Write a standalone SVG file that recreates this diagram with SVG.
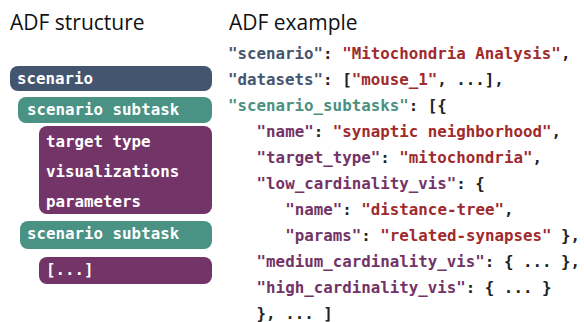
<svg xmlns="http://www.w3.org/2000/svg" width="584" height="322" viewBox="0 0 584 322">
<style>
.title{font-family:"Open Sans","Liberation Sans",sans-serif;font-size:21px;fill:#111;}
.m{font-family:"DejaVu Sans Mono","Liberation Mono",monospace;font-size:15.8px;font-weight:bold;}
.w{fill:#ffffff;}
.b{fill:#44566f;}
.r{fill:#a02a2c;}
.t{fill:#4a9080;}
.p{fill:#733366;}
.k{fill:#222222;}
.bx-s{fill:#44566f;}
.bx-t{fill:#4a9283;}
.bx-p{fill:#733467;}
</style>
<rect width="584" height="322" fill="#ffffff"/>
<text class="title" x="10" y="30">ADF structure</text>
<text class="title" x="229" y="30">ADF example</text>
<g id="node-scenario"><rect class="bx-s" x="10" y="66" width="202" height="25" rx="8"/><text class="m w" x="17" y="84">scenario</text></g>
<g id="node-subtask1"><rect class="bx-t" x="18" y="97" width="194" height="26" rx="8"/><text class="m w" x="27" y="115">scenario subtask</text></g>
<g id="node-fields"><rect class="bx-p" x="39" y="126" width="173" height="88" rx="8"/><text class="m w" x="46" y="147">target type</text><text class="m w" x="46" y="177">visualizations</text><text class="m w" x="46" y="207">parameters</text></g>
<g id="node-subtask2"><rect class="bx-t" x="20" y="221" width="192" height="28" rx="8"/><text class="m w" x="27" y="239">scenario subtask</text></g>
<g id="node-more"><rect class="bx-p" x="39" y="257" width="173" height="27" rx="8"/><text class="m w" x="46" y="275">[...]</text></g>
<g id="connectors"></g>
<g id="code" class="m">
<text x="228" y="59"><tspan class="b">"scenario"</tspan><tspan class="k">: </tspan><tspan class="r">"Mitochondria Analysis"</tspan><tspan class="k">,</tspan></text>
<text x="228" y="85"><tspan class="b">"datasets"</tspan><tspan class="k">: [</tspan><tspan class="r">"mouse_1"</tspan><tspan class="k">, ...],</tspan></text>
<text x="228" y="111"><tspan class="t">"scenario_subtasks"</tspan><tspan class="k">: [{</tspan></text>
<text x="256.6" y="137"><tspan class="p">"name"</tspan><tspan class="k">: </tspan><tspan class="r">"synaptic neighborhood"</tspan><tspan class="k">,</tspan></text>
<text x="256.6" y="163"><tspan class="p">"target_type"</tspan><tspan class="k">: </tspan><tspan class="r">"mitochondria"</tspan><tspan class="k">,</tspan></text>
<text x="256.6" y="189"><tspan class="p">"low_cardinality_vis"</tspan><tspan class="k">: {</tspan></text>
<text x="285.2" y="215"><tspan class="p">"name"</tspan><tspan class="k">: </tspan><tspan class="r">"distance-tree"</tspan><tspan class="k">,</tspan></text>
<text x="285.2" y="241"><tspan class="p">"params"</tspan><tspan class="k">: </tspan><tspan class="r">"related-synapses"</tspan><tspan class="k"> },</tspan></text>
<text x="256.6" y="267"><tspan class="p">"medium_cardinality_vis"</tspan><tspan class="k">: { ... },</tspan></text>
<text x="256.6" y="293"><tspan class="p">"high_cardinality_vis"</tspan><tspan class="k">: { ... }</tspan></text>
<text x="256.6" y="319" class="k">}, ... ]</text>
</g>
</svg>
